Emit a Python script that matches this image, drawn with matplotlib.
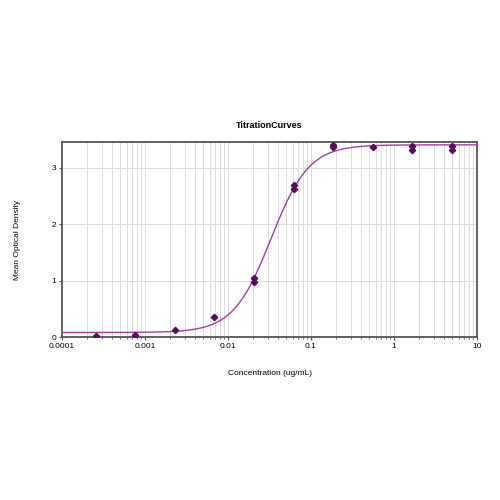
import numpy as np
import matplotlib
matplotlib.use('Agg')
import matplotlib.pyplot as plt
from matplotlib.ticker import LogLocator, FixedLocator, NullFormatter

plt.rcParams['font.family'] = ['Liberation Sans', 'DejaVu Sans']

# measured points (duplicates per concentration)
conc = [0.000254, 0.000762, 0.00229, 0.00686, 0.0206, 0.0206, 0.0617, 0.0617,
        0.185, 0.185, 0.556, 1.667, 1.667, 5.0, 5.0]
od = [0.02, 0.04, 0.12, 0.35, 1.05, 0.98, 2.69, 2.62,
      3.40, 3.38, 3.37, 3.39, 3.32, 3.39, 3.32]

# fitted 4PL parameters
bottom = 0.08
top = 3.41
ec50 = 0.033
hill = 1.9

xticks = [0.0001, 0.001, 0.01, 0.1, 1, 10]
xticklabels = ['0.0001', '0.001', '0.01', '0.1', '1', '10']
yticks = [0, 1, 2, 3]

fig = plt.figure(figsize=(5, 5), dpi=100)
ax = fig.add_axes([0.124, 0.326, 0.830, 0.390])

xs = np.logspace(-4, 1, 400)
fit = bottom + (top - bottom) / (1 + (ec50 / xs) ** hill)
ax.plot(xs, fit, color='#a43fa4', lw=1.0, zorder=3)
ax.plot(conc, od, 'D', color='#5c0a5c', ms=3.2, zorder=4)

ax.set_xscale('log')
ax.set_xlim(0.0001, 10)
ax.set_ylim(0, 3.46)
ax.xaxis.set_major_locator(FixedLocator(xticks))
ax.set_xticklabels(xticklabels)
ax.xaxis.set_minor_locator(LogLocator(base=10, subs=np.arange(2, 10)))
ax.xaxis.set_minor_formatter(NullFormatter())
ax.set_yticks(yticks)

ax.grid(True, which='both', axis='x', color='#dcdcdc', lw=0.7)
ax.grid(True, which='major', axis='y', color='#dcdcdc', lw=0.7)
ax.set_axisbelow(True)

for s in ax.spines.values():
    s.set_color('#555555')
    s.set_linewidth(1.3)
ax.tick_params(axis='both', which='both', labelsize=6, length=2, color='#555555', pad=2)
ax.tick_params(axis='x', which='minor', length=1.5)

ax.set_title('TitrationCurves', fontsize=6.5, fontweight='bold', pad=10)
ax.set_xlabel('Concentration (ug/mL)', fontsize=6, labelpad=15)
ax.set_ylabel('Mean Optical Density', fontsize=6, labelpad=22)

fig.savefig('out.png', dpi=100)
